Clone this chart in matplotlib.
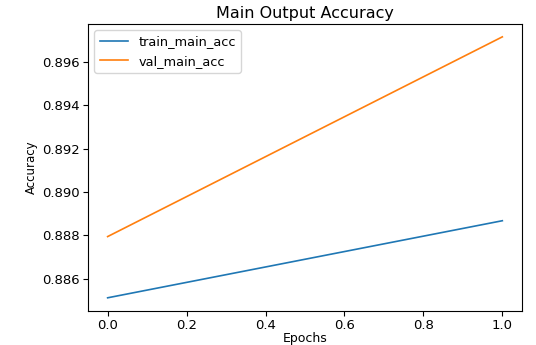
import matplotlib
matplotlib.use('Agg')
import matplotlib.pyplot as plt

epochs = [0, 1]
train_main_acc = [0.88513, 0.88868]
val_main_acc = [0.88795, 0.89715]

fig = plt.figure(figsize=(5.36, 3.45), dpi=100)
ax = fig.add_axes([0.164, 0.099, 0.81, 0.832])
ax.plot(epochs, train_main_acc, label='train_main_acc', linewidth=1.2)
ax.plot(epochs, val_main_acc, label='val_main_acc', linewidth=1.2)
ax.set_title('Main Output Accuracy', fontsize=11.5, pad=4)
ax.set_xlabel('Epochs', fontsize=9, labelpad=0)
ax.set_ylabel('Accuracy', fontsize=8.5, labelpad=3)
ax.tick_params(labelsize=9.5, pad=2.5)
ax.legend(loc='upper left', fontsize=9.3, handlelength=2.2)

plt.savefig('out.png', dpi=100)
